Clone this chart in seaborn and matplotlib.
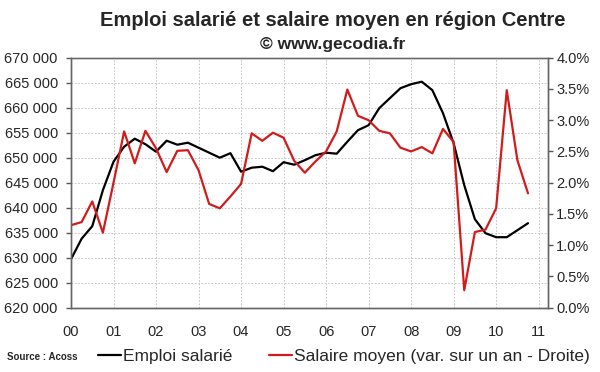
import matplotlib
matplotlib.use("Agg")
import matplotlib.pyplot as plt
import seaborn as sns
import pandas as pd
import numpy as np

# quarterly data, 2000 Q1 -> 2010 Q4
quarters = pd.period_range("2000Q1", "2010Q4", freq="Q")

emploi = [629700, 633800, 636300, 643500, 649200, 652200, 653800, 652700,
          651200, 653400, 652600, 653000, 652000, 651000, 650000, 650900,
          647200, 648000, 648200, 647300, 649100, 648600, 649500, 650500,
          651000, 650800, 653200, 655500, 656500, 659900, 661900, 663900,
          664700, 665200, 663500, 658900, 652900, 644500, 637700, 634900,
          634100, 634100, 635500, 636900]

salaire = [1.32, 1.37, 1.70, 1.20, 2.00, 2.82, 2.31, 2.83,
           2.55, 2.17, 2.51, 2.52, 2.20, 1.66, 1.59, 1.78,
           1.98, 2.79, 2.67, 2.80, 2.72, 2.35, 2.16, 2.34,
           2.50, 2.82, 3.49, 3.07, 3.00, 2.83, 2.79, 2.56,
           2.50, 2.57, 2.47, 2.86, 2.65, 0.28, 1.21, 1.25,
           1.59, 3.48, 2.36, 1.83]

year_labels = ["00", "01", "02", "03", "04", "05", "06", "07", "08", "09", "10", "11"]
left_ticks = [620000, 625000, 630000, 635000, 640000, 645000, 650000,
              655000, 660000, 665000, 670000]
right_ticks = [0.0, 0.5, 1.0, 1.5, 2.0, 2.5, 3.0, 3.5, 4.0]

df = pd.DataFrame({
    "t": quarters.year - 2000 + (quarters.quarter - 1) / 4,
    "emploi": emploi,
    "salaire": salaire,
})

sns.set_style("white")
plt.rcParams["font.family"] = ["Liberation Sans", "DejaVu Sans"]

fig = plt.figure(figsize=(6, 3.72), dpi=100)
ax = fig.add_axes([71 / 600, 1 - 307.7 / 372, (548 - 71) / 600, (307.7 - 57.7) / 372])
ax2 = ax.twinx()

sns.lineplot(data=df, x="t", y="emploi", ax=ax, color="black", linewidth=1.6,
             label="Emploi salarié", legend=False)
sns.lineplot(data=df, x="t", y="salaire", ax=ax2, color="#d01c1c", linewidth=1.6,
             label="Salaire moyen (var. sur un an - Droite)", legend=False)

ax.set_xlim(0, 11.22)
ax.set_ylim(620000, 670000)
ax2.set_ylim(0, 4.0)

ax.set_xticks(range(len(year_labels)))
ax.set_xticklabels(year_labels, fontsize=10.5)
ax.set_yticks(left_ticks)
ax.set_yticklabels([f"{v:,}".replace(",", " ") for v in left_ticks], fontsize=10.5)
ax2.set_yticks(right_ticks)
ax2.set_yticklabels([f"{v:.1f}%" for v in right_ticks], fontsize=10.5)

ax.set_xlabel("")
ax.set_ylabel("")
ax2.set_ylabel("")

ax.grid(True, color="#bbbbbb", linestyle=(0, (2, 2)), linewidth=0.6)
ax2.grid(False)

ax.tick_params(axis="x", direction="out", length=4.5, width=1, color="#555555", pad=8)
ax.tick_params(axis="y", direction="out", length=3.5, width=1, color="#555555", pad=6)
ax2.tick_params(axis="y", direction="out", length=3.5, width=1, color="#555555", pad=2.5)

for a in (ax, ax2):
    for s in a.spines.values():
        s.set_color("#666666")
        s.set_linewidth(1.0)
ax.spines["top"].set_color("#999999")

fig.text(0.554, 1 - 21 / 372, "Emploi salarié et salaire moyen en région Centre",
         ha="center", va="center", fontsize=14.5, fontweight="bold")
fig.text(0.555, 1 - 45 / 372, "© www.gecodia.fr",
         ha="center", va="center", fontsize=12.5, fontweight="bold")
fig.text(7 / 600, 1 - 357 / 372, "Source : Acoss", ha="left", va="center",
         fontsize=7, fontweight="bold")

handles = ax.get_lines()[:1] + ax2.get_lines()[:1]
fig.legend(handles, [h.get_label() for h in handles], loc="center left",
           bbox_to_anchor=(98 / 600, 1 - 356 / 372), ncol=2, frameon=False,
           fontsize=12.5, handlelength=1.3, handletextpad=0.15, columnspacing=2.1,
           borderpad=0, borderaxespad=0)

fig.savefig("out.png", dpi=100)
